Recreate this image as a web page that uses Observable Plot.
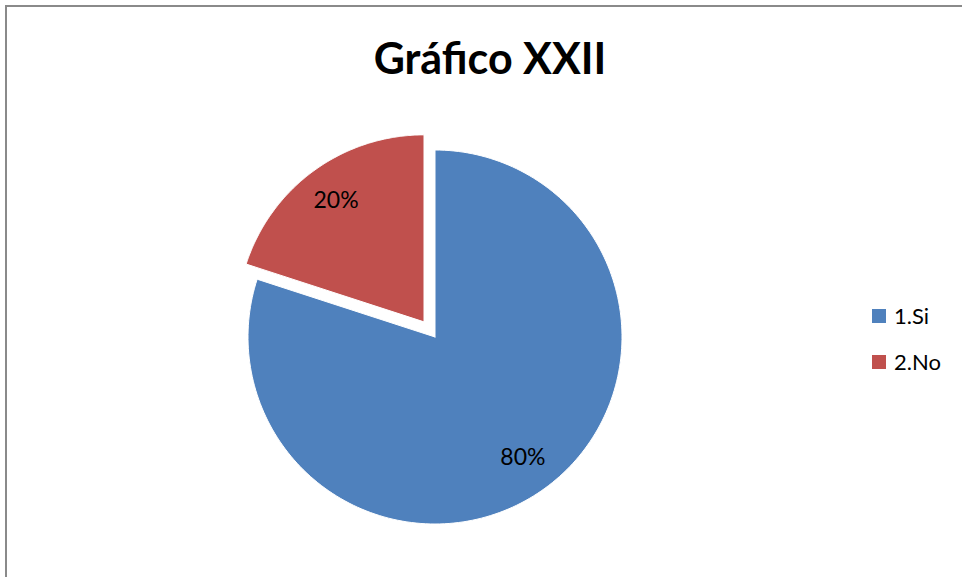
<!DOCTYPE html>
<html>
<head>
<meta charset="utf-8">
<script src="https://cdn.jsdelivr.net/npm/d3@7"></script>
<script src="https://cdn.jsdelivr.net/npm/@observablehq/plot@0.6"></script>
<style>
  html, body { margin: 0; padding: 0; background: #fff; }
  #wrap { position: relative; width: 962px; height: 577px; overflow: hidden; font-family: Lato, "Open Sans", sans-serif; }
  #chart { position: absolute; left: 0; top: 0; }
  #border { position: absolute; left: 5px; top: 5px; right: -10px; bottom: -10px; border-top: 2px solid #8a8a8a; border-left: 2px solid #8a8a8a; pointer-events: none; }
  #title { position: absolute; left: 0; width: 980px; top: 32px; text-align: center; font-weight: bold; font-size: 43px; line-height: 52px; color: #000; }
  .lg { position: absolute; left: 872px; display: flex; align-items: center; font-size: 22px; color: #000; }
  .sw { width: 14px; height: 14px; margin-right: 8px; }
</style>
</head>
<body>
<div id="wrap">
  <div id="chart"></div>
  <div id="border"></div>
  <div id="title">Gráfico XXII</div>
  <div id="legend"></div>
</div>
<script>
const categories = ["1.Si", "2.No"];
const values = [80, 20];
const labels = ["80%", "20%"];
const colors = ["#4F81BD", "#C0504D"];
const explode = [0, 0.1];

const W = 962, H = 577, cx = 434.5, cy = 336.5, R = 187;

const arcs = d3.pie().sort(null)(values);
const rows = [];
const labelRows = [];
arcs.forEach((p, i) => {
  const m = (p.startAngle + p.endAngle) / 2;
  const ox = explode[i] * Math.sin(m), oy = -explode[i] * Math.cos(m);
  rows.push({cat: categories[i], x: ox, y: oy});
  const n = 200;
  for (let k = 0; k <= n; k++) {
    const a = p.startAngle + (p.endAngle - p.startAngle) * k / n;
    rows.push({cat: categories[i], x: ox + Math.sin(a), y: oy - Math.cos(a)});
  }
  rows.push({cat: categories[i], x: ox, y: oy});
  labelRows.push({label: labels[i], x: ox + 0.8 * Math.sin(m), y: oy - 0.8 * Math.cos(m)});
});

const plot = Plot.plot({
  width: W, height: H,
  margin: 0,
  x: {domain: [-cx / R, (W - cx) / R], range: [0, W], axis: null},
  y: {domain: [-cy / R, (H - cy) / R], range: [0, H], axis: null},
  color: {domain: categories, range: colors},
  marks: [
    Plot.line(rows, {x: "x", y: "y", z: "cat", fill: "cat", stroke: "white", strokeWidth: 1, curve: "linear"}),
    Plot.text(labelRows, {x: "x", y: "y", text: "label", fontSize: 23, fill: "#000", fontFamily: "Lato, 'Open Sans', sans-serif"})
  ]
});
document.getElementById("chart").appendChild(plot);

const legend = document.getElementById("legend");
const legendTops = [302, 348];
categories.forEach((c, i) => {
  const d = document.createElement("div");
  d.className = "lg";
  d.style.top = legendTops[i] + "px";
  d.innerHTML = `<div class="sw" style="background:${colors[i]}"></div><span>${c}</span>`;
  legend.appendChild(d);
});
</script>
</body>
</html>
